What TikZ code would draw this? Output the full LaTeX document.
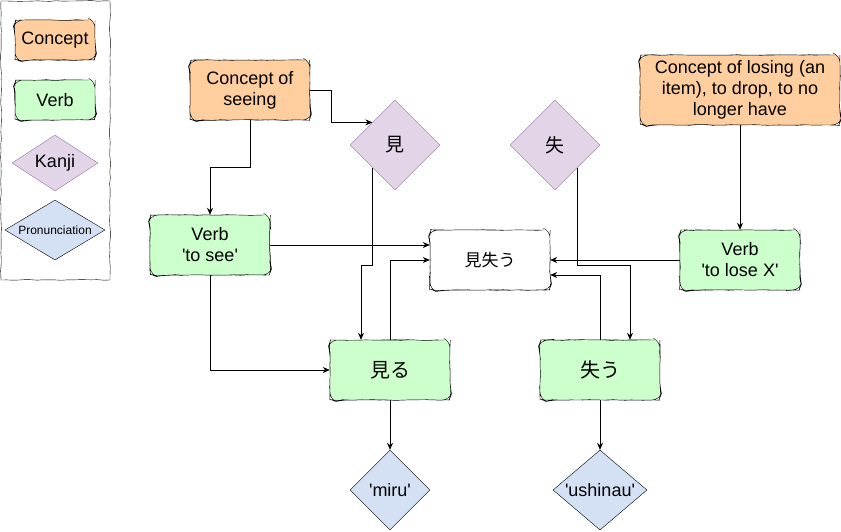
\documentclass[tikz,border=0pt]{standalone}
\usepackage{fontspec}
\setmainfont{Liberation Sans}[Ligatures=TeXOff]
\newfontfamily\jp{Noto Sans CJK JP}
\usetikzlibrary{shapes.geometric,arrows.meta,calc,decorations.pathmorphing}

\definecolor{conceptfill}{HTML}{FFCE9F}
\definecolor{verbfill}{HTML}{CCFFCC}
\definecolor{kanjifill}{HTML}{E1D5E7}
\definecolor{kanjiline}{HTML}{9673A6}
\definecolor{pronfill}{HTML}{D4E1F5}

\tikzstyle{sketchy} = [decorate, decoration={random steps,segment length=6pt,amplitude=0.4pt}]
\tikzstyle{box} = [draw, sketchy, rounded corners=7pt, minimum width=120pt, minimum height=60pt, align=center, inner sep=2pt, font=\fontsize{18}{21}\selectfont]
\tikzstyle{concept} = [box, fill=conceptfill]
\tikzstyle{verb} = [box, fill=verbfill]
\tikzstyle{kanji} = [diamond, draw=kanjiline, fill=kanjifill, inner sep=0pt, minimum width=90pt, minimum height=90pt, font=\fontsize{18}{21}\selectfont]
\tikzstyle{pron} = [diamond, draw, fill=pronfill, inner sep=0pt, minimum width=80pt, minimum height=80pt, font=\fontsize{18}{21}\selectfont]
\tikzstyle{link} = [-{Stealth[length=7pt,width=6pt]}, line width=0.8pt]

\begin{document}
\pgfmathsetseed{7}
\begin{tikzpicture}[x=1pt,y=-1pt]
\useasboundingbox (0,0) rectangle (841,531);

% legend
\node [draw, sketchy, fill=white, minimum width=109pt, minimum height=279pt, inner sep=0pt] (legend) at (55.5,140.5) {};
\node [concept, minimum width=80pt, minimum height=40pt] (legconcept) at (55,40) {Concept};
\node [verb, minimum width=80pt, minimum height=40pt] (legverb) at (55,100) {Verb};
\node [kanji, minimum width=86pt, minimum height=56pt, aspect=1.5] (legkanji) at (55,163) {Kanji};
\node [pron, minimum width=100pt, minimum height=60pt, aspect=1.67, font=\fontsize{12}{15}\selectfont] (legpron) at (55,230) {Pronunciation};

% concepts
\node [concept] (seeing) at (250,90) {Concept of\\seeing};
\node [concept, minimum width=200pt, minimum height=70pt] (losing) at (740,90) {Concept of losing (an\\item), to drop, to no\\longer have};

% kanji
\node [kanji, font=\fontsize{19}{20}\jp] (mikanji) at (395,145) {見};
\node [kanji, font=\fontsize{19}{20}\jp] (shitsukanji) at (555,145) {失};

% verbs
\node [verb] (tosee) at (210,245) {Verb\\'to see'};
\node [box, fill=white, font=\fontsize{17}{20}\jp] (mishinau) at (490,260) {見失う};
\node [verb] (tolose) at (740,260) {Verb\\'to lose X'};
\node [verb, font=\fontsize{20}{22}\jp] (miruv) at (390,370) {見る};
\node [verb, font=\fontsize{20}{22}\jp] (ushinauv) at (600,370) {失う};

% pronunciations
\node [pron] (mirupron) at (390,490) {'miru'};
\node [pron, minimum width=94pt, aspect=1.2] (ushinaupron) at (600,490) {'ushinau'};

% connectors
\draw [link] (seeing.east) -- ++(21,0) |- ($(mikanji.west)!.5!(mikanji.north)$);
\draw [link] (seeing.south) -- ++(0,47) -| (tosee.north);
\draw [link] ($(mikanji.west)!.5!(mikanji.south)$) -- ++(0,97.5) -| ([xshift=-29pt]miruv.north);
\draw [link] (tosee.east) -- (tosee.east -| mishinau.west);
\draw [link] (miruv.north) |- (mishinau.west);
\draw [link] (tosee.south) |- (miruv.west);
\draw [link] ($(shitsukanji.east)!.5!(shitsukanji.south)$) -- ++(0,97.5) -| ([xshift=30pt]ushinauv.north);
\draw [link] (tolose.west) -- (mishinau.east);
\draw [link] (ushinauv.north) |- ([yshift=-15pt]mishinau.east);
\draw [link] (losing.south) -- (tolose.north);
\draw [link] (miruv.south) -- (mirupron.north);
\draw [link] (ushinauv.south) -- (ushinaupron.north);
\end{tikzpicture}
\end{document}
